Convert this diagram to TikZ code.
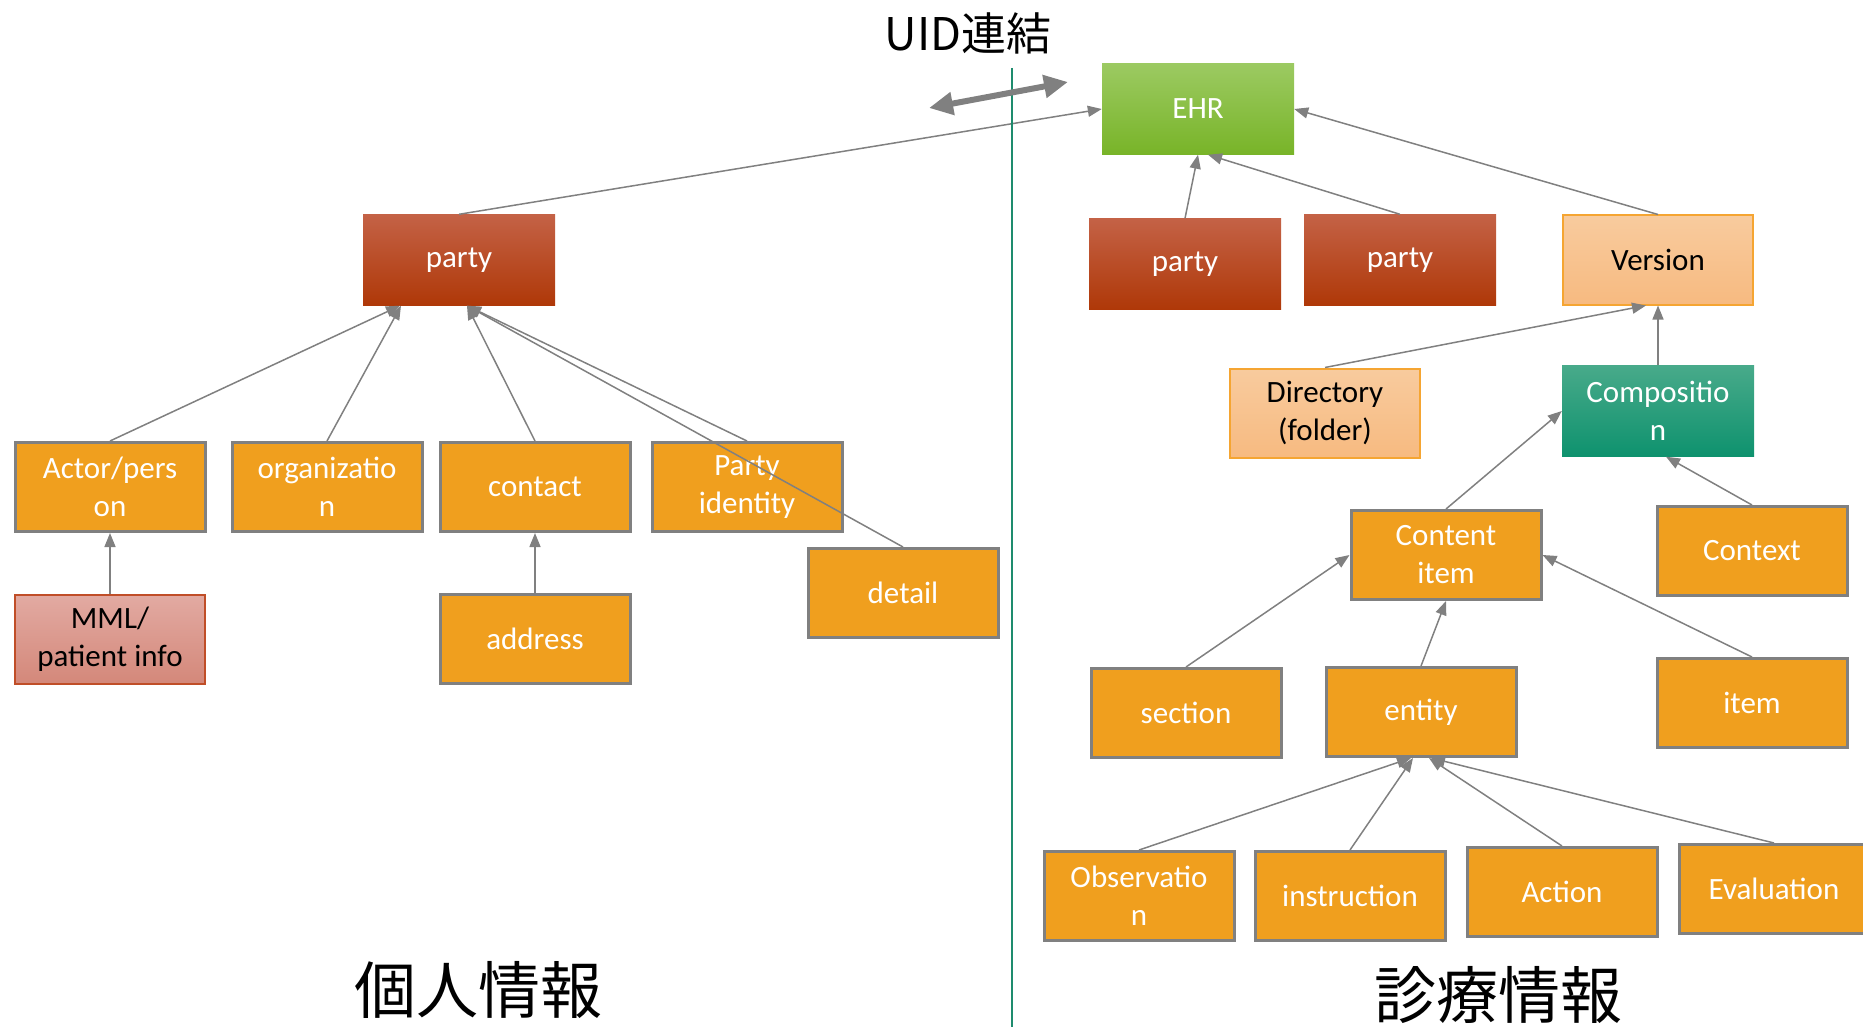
\documentclass[tikz,border=0pt]{standalone}
\usepackage{fontspec}
\setmainfont{Carlito}
\newfontfamily\jpfont{Noto Sans CJK JP}
\usetikzlibrary{arrows.meta}
\definecolor{boxorange}{RGB}{240,159,30}
\definecolor{boxgray}{RGB}{128,128,128}
\definecolor{partytop}{RGB}{196,98,70}
\definecolor{partybot}{RGB}{175,56,8}
\definecolor{ehrtop}{RGB}{156,202,98}
\definecolor{ehrbot}{RGB}{120,180,40}
\definecolor{tealtop}{RGB}{72,170,138}
\definecolor{tealbot}{RGB}{14,146,110}
\definecolor{peachtop}{RGB}{248,203,158}
\definecolor{peachbot}{RGB}{247,186,128}
\definecolor{peachline}{RGB}{245,165,50}
\definecolor{pinktop}{RGB}{226,170,162}
\definecolor{pinkbot}{RGB}{212,136,122}
\definecolor{pinkline}{RGB}{192,78,40}
\definecolor{divider}{RGB}{30,140,110}
\begin{document}
\begin{tikzpicture}[x=1pt, y=-1pt,
    box/.style={minimum width=192pt, minimum height=91pt, inner sep=0pt, align=center,
      text=white, font=\fontsize{31}{38}\selectfont},
    obox/.style={box, minimum width=190pt, minimum height=89pt, fill=boxorange, draw=boxgray, line width=3pt},
    redbox/.style={box, top color=partytop, bottom color=partybot},
    greenbox/.style={box, top color=ehrtop, bottom color=ehrbot},
    tealbox/.style={box, top color=tealtop, bottom color=tealbot},
    peachbox/.style={box, minimum width=190pt, minimum height=89pt, text=black, top color=peachtop, bottom color=peachbot, draw=peachline, line width=2pt},
    pinkbox/.style={box, minimum width=190pt, minimum height=89pt, text=black, top color=pinktop, bottom color=pinkbot, draw=pinkline, line width=2pt},
    link/.style={draw=boxgray, line width=1.5pt, -{Triangle[length=14pt,width=11pt]}},
    heading/.style={font=\jpfont\fontsize{62}{70}\selectfont}]
    \useasboundingbox (0,0) rectangle (1863,1027);

    % left side
    \node[redbox] (LP) at (459,260) {party};
    \node[obox] (AP) at (110,487) {Actor/pers\\on};
    \node[obox] (OG) at (327,487) {organizatio\\n};
    \node[obox] (CT) at (535,487) {contact};
    \node[obox] (PI) at (747,487) {Party\\identity};
    \node[obox] (DT) at (903,593) {detail};
    \node[pinkbox] (MM) at (110,639) {MML/\\patient info};
    \node[obox] (AD) at (535,639) {address};

    \draw[link] (AP.north) -- ([xshift=-59pt]LP.south);
    \draw[link] (OG.north) -- ([xshift=-58pt]LP.south);
    \draw[link] (CT.north) -- ([xshift=8pt]LP.south);
    \draw[link] (PI.north) -- ([xshift=8pt]LP.south);
    \draw[link] (DT.north) -- ([xshift=8pt]LP.south);
    \draw[link] (MM.north) -- (AP.south);
    \draw[link] (AD.north) -- (CT.south);

    % right side
    \node[greenbox] (EH) at (1198,109) {EHR};
    \node[redbox] (RA) at (1185,264) {party};
    \node[redbox] (RB) at (1400,260) {party};
    \node[peachbox] (VE) at (1658,260) {Version};
    \node[peachbox] (DI) at (1325,413) {Directory\\(folder)};
    \node[tealbox] (CM) at (1658,411) {Compositio\\n};
    \node[obox] (CI) at (1446,555) {Content\\item};
    \node[obox] (CX) at (1752,551) {Context};
    \node[obox] (SE) at (1186,713) {section};
    \node[obox] (EN) at (1421,712) {entity};
    \node[obox] (IT) at (1752,703) {item};
    \node[obox] (OB) at (1139,896) {Observatio\\n};
    \node[obox] (IN) at (1350,896) {instruction};
    \node[obox] (AC) at (1562,892) {Action};
    \node[obox] (EV) at (1774,889) {Evaluation};

    \draw[link] (LP.north) -- (EH.west);
    \draw[link] (RA.north) -- (EH.south);
    \draw[link] (RB.north) -- ([xshift=10pt]EH.south);
    \draw[link] (VE.north) -- (EH.east);
    \draw[link] (DI.north) -- ([xshift=-12pt]VE.south);
    \draw[link] (CM.north) -- (VE.south);
    \draw[link] (CI.north) -- (CM.west);
    \draw[link] (CX.north) -- ([xshift=8pt]CM.south);
    \draw[link] (SE.north) -- (CI.west);
    \draw[link] (EN.north) -- (CI.south);
    \draw[link] (IT.north) -- (CI.east);
    \draw[link] (OB.north) -- ([xshift=-10pt]EN.south);
    \draw[link] (IN.north) -- ([xshift=-8pt]EN.south);
    \draw[link] (AC.north) -- ([xshift=8pt]EN.south);
    \draw[link] (EV.north) -- ([xshift=10pt]EN.south);

    % divider and UID link
    \coordinate (D1) at (1012,68);
    \coordinate (D2) at (1012,1027);
    \draw[divider, line width=2pt] (D1) -- (D2);
    \coordinate (U1) at (929,108);
    \coordinate (U2) at (1068,82);
    \draw[boxgray, line width=6pt, {Triangle[length=24pt,width=22pt]}-{Triangle[length=24pt,width=22pt]}] (U1) -- (U2);
    \node[font=\jpfont\fontsize{45}{50}\selectfont] (UL) at (968,33) {UID連結};

    \node[heading] (KJ) at (478,990) {個人情報};
    \node[heading] (SJ) at (1498,995) {診療情報};
\end{tikzpicture}
\end{document}
